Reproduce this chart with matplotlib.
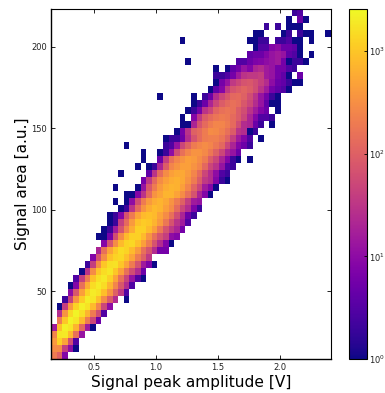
import numpy as np
import matplotlib
matplotlib.use('Agg')
import matplotlib.pyplot as plt
import matplotlib.colors as mcolors

# histogram range
x_min, x_max = 0.153, 2.41
y_min, y_max = 8.3, 223.3
n_bins = 50

# counts, one row per y bin from the top down
# row_start is the first x bin that the row's list describes
row_start = [43, 42, 38, 36, 23, 36, 35, 24, 29, 29,
             29, 28, 19, 25, 24, 23, 23, 22, 20, 13,
             16, 16, 15, 12, 16, 11, 13, 11, 12, 10,
             10, 9, 8, 9, 8, 7, 6, 5, 4, 3,
             3, 2, 1, 1, 1, 0, 0, 0, 0, 0]
row_counts = [
    [2, 3],
    [1, 0, 5, 1],
    [2, 0, 2, 0, 1, 1, 1],
    [1, 1, 0, 0, 0, 1, 2, 0, 2, 1, 1, 0, 0, 1],
    [1, 0, 0, 0, 0, 0, 0, 0, 0, 0, 0, 0, 1, 1, 2, 2, 0, 2, 2, 3, 1, 1, 0, 1],
    [1, 3, 3, 8, 10, 5, 5, 4, 1],
    [4, 5, 5, 8, 12, 15, 12, 4, 3, 1, 0, 1],
    [1, 0, 0, 0, 0, 0, 0, 0, 0, 3, 3, 5, 7, 8, 10, 12, 15, 6, 1, 2, 2, 1],
    [1, 0, 1, 4, 6, 12, 8, 20, 25, 15, 12, 6, 6, 3, 2],
    [2, 2, 3, 6, 15, 30, 35, 35, 40, 15, 12, 6, 4, 1, 0, 5],
    [1, 6, 12, 35, 50, 70, 80, 60, 40, 25, 10, 5, 4, 2, 1, 1],
    [1, 4, 8, 35, 70, 90, 110, 90, 60, 30, 15, 6, 4, 3, 1],
    [1, 0, 0, 0, 0, 0, 1, 0, 2, 5, 25, 50, 80, 120, 130, 100, 60, 30, 12, 6, 2, 1],
    [1, 2, 5, 20, 50, 90, 120, 150, 130, 80, 50, 25, 12, 4, 1, 1],
    [1, 2, 6, 30, 50, 110, 150, 170, 150, 90, 60, 30, 15, 8, 5, 0, 1],
    [1, 0, 8, 35, 90, 130, 170, 200, 180, 130, 90, 50, 20, 8, 3, 3, 2],
    [1, 1, 20, 70, 130, 200, 250, 250, 200, 130, 60, 25, 20, 5, 2, 0, 1],
    [1, 6, 30, 100, 130, 200, 300, 280, 220, 150, 90, 30, 25, 1, 2],
    [1, 2, 2, 5, 25, 70, 130, 200, 220, 220, 170, 100, 40, 15, 8, 3, 0, 1],
    [1, 0, 0, 0, 0, 0, 0, 2, 3, 12, 50, 100, 200, 250, 300, 250, 180, 120, 50, 20, 8, 5, 2],
    [1, 0, 0, 1, 2, 10, 60, 150, 250, 350, 350, 280, 180, 100, 50, 20, 12, 5],
    [1, 0, 0, 5, 40, 150, 250, 350, 450, 400, 300, 200, 90, 50, 20, 8, 2, 1, 0, 1],
    [1, 0, 1, 2, 20, 90, 250, 350, 450, 450, 350, 250, 120, 50, 30, 12, 3, 2],
    [1, 0, 0, 0, 0, 4, 30, 130, 300, 450, 550, 550, 400, 250, 130, 50, 25, 10, 3, 2],
    [6, 35, 120, 300, 450, 600, 650, 550, 350, 200, 90, 35, 25, 8, 2, 1],
    [1, 0, 0, 0, 1, 12, 80, 200, 400, 600, 700, 650, 450, 250, 110, 50, 15, 8, 1],
    [1, 1, 8, 30, 120, 350, 500, 700, 700, 500, 300, 150, 70, 20, 8, 1],
    [1, 0, 1, 10, 60, 200, 400, 600, 700, 550, 350, 200, 100, 40, 15, 12],
    [1, 2, 30, 130, 350, 600, 800, 700, 450, 300, 130, 50, 25, 7, 2],
    [1, 2, 8, 70, 200, 500, 800, 900, 800, 500, 300, 150, 60, 20, 5, 2],
    [1, 2, 40, 130, 400, 900, 1100, 1000, 700, 400, 180, 70, 30, 15, 3],
    [1, 2, 15, 70, 250, 600, 1200, 1200, 800, 450, 180, 70, 35, 20, 6],
    [1, 1, 6, 60, 300, 800, 1200, 1200, 800, 350, 150, 70, 40, 10, 8],
    [8, 70, 300, 800, 1300, 1400, 900, 450, 200, 70, 25, 8, 1],
    [20, 150, 500, 1000, 1500, 1300, 800, 400, 150, 70, 25, 6, 6],
    [8, 70, 300, 900, 1300, 1400, 900, 500, 200, 100, 35],
    [2, 40, 300, 1000, 1600, 1700, 1000, 500, 200, 70, 15, 7, 1],
    [1, 30, 300, 1000, 1500, 1800, 1000, 450, 150, 60, 25, 5],
    [3, 40, 200, 900, 1600, 1900, 1200, 500, 150, 45, 12, 3, 1],
    [1, 8, 150, 600, 1500, 2000, 1500, 700, 250, 80, 25, 3],
    [10, 80, 450, 1300, 2000, 1700, 900, 350, 100, 35, 3],
    [2, 40, 350, 1100, 2100, 1800, 900, 300, 90, 25, 0, 1],
    [1, 40, 400, 1300, 2200, 1700, 800, 250, 50, 10],
    [25, 350, 1400, 2300, 1600, 700, 200, 60, 3],
    [200, 1000, 2300, 1800, 800, 200, 50, 5],
    [15, 900, 2200, 1800, 700, 120, 15, 1],
    [250, 1800, 1900, 800, 150, 12],
    [400, 1200, 500, 60, 3],
    [300, 300, 40, 10, 1],
    [200, 100, 8],
]

x_ticks = [0.5, 1.0, 1.5, 2.0]
y_ticks = [50, 100, 150, 200]
cbar_ticks = [1, 10, 100, 1000]

counts = np.zeros((n_bins, n_bins))
for t, (start, vals) in enumerate(zip(row_start, row_counts)):
    counts[n_bins - 1 - t, start:start + len(vals)] = vals
masked = np.ma.masked_where(counts <= 0, counts)

x_edges = np.linspace(x_min, x_max, n_bins + 1)
y_edges = np.linspace(y_min, y_max, n_bins + 1)

W, H = 385, 393
fig = plt.figure(figsize=(W / 100, H / 100), dpi=100)
ax = fig.add_axes([51 / W, 1 - 359 / H, 280 / W, 350 / H])
cax = fig.add_axes([349 / W, 1 - 359 / H, 17.5 / W, 350 / H])

norm = mcolors.LogNorm(vmin=1, vmax=2570)
mesh = ax.pcolormesh(x_edges, y_edges, masked, cmap='plasma', norm=norm, clip_on=False)

ax.set_xlim(x_min, x_max)
ax.set_ylim(y_min, y_max)
ax.set_xticks(x_ticks)
ax.set_yticks(y_ticks)
ax.set_xticklabels(['0.5', '1.0', '1.5', '2.0'])
ax.tick_params(direction='in', top=True, right=True, length=3, width=0.6,
               labelsize=6, pad=3, color='black', labelcolor='#222222')
ax.spines['left'].set_linewidth(1.0)
ax.spines['bottom'].set_linewidth(1.0)
ax.spines['top'].set_linewidth(0.8)
ax.spines['right'].set_linewidth(0.8)
ax.set_xlabel('Signal peak amplitude [V]', fontsize=11.1, labelpad=2)
ax.set_ylabel('Signal area [a.u.]', fontsize=11.1, labelpad=1)

cbar = fig.colorbar(mesh, cax=cax)
cbar.set_ticks(cbar_ticks)
cbar.ax.minorticks_off()
cbar.ax.tick_params(direction='in', length=2.5, width=0.6, labelsize=6, pad=2,
                    labelcolor='#222222')
cbar.outline.set_linewidth(0.8)

plt.savefig('out.png', dpi=100)
plt.close()
